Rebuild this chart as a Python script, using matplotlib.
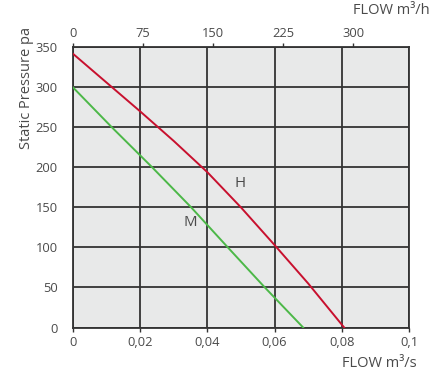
import matplotlib
matplotlib.use('Agg')
import matplotlib.pyplot as plt

plt.rcParams['font.family'] = ['Open Sans', 'DejaVu Sans']

# flow in m3/s, static pressure in pa
h_flow = [0, 0.01, 0.02, 0.03, 0.04, 0.05, 0.06, 0.07, 0.0807]
h_pres = [342, 306, 270, 233, 194, 150, 103, 55, 0]
m_flow = [0, 0.0116, 0.0236, 0.0352, 0.0461, 0.0571, 0.0685]
m_pres = [300, 250, 200, 150, 100, 50, 0]

x_ticks = [0, 0.02, 0.04, 0.06, 0.08, 0.1]
x_labels = ['0', '0,02', '0,04', '0,06', '0,08', '0,1']
top_ticks = [0, 75, 150, 225, 300]
y_ticks = [0, 50, 100, 150, 200, 250, 300, 350]

grid_col = '#333333'
txt_col = '#4a4a4a'

fig = plt.figure(figsize=(4.44, 3.74), dpi=100)
ax = fig.add_axes([0.1644, 0.1243, 0.7568, 0.749])
ax.set_facecolor('#e8e9e9')

ax.plot(h_flow, h_pres, color='#c8102e', lw=1.4, zorder=3)
ax.plot(m_flow, m_pres, color='#4cb848', lw=1.4, zorder=3)
ax.text(0.0497, 180, 'H', fontsize=10.8, color=txt_col, ha='center', va='center')
ax.text(0.0348, 131, 'M', fontsize=10.8, color=txt_col, ha='center', va='center')

ax.set_xlim(0, 0.1)
ax.set_ylim(0, 350)
ax.set_xticks(x_ticks)
ax.set_xticklabels(x_labels)
ax.set_yticks(y_ticks)
ax.grid(True, color=grid_col, lw=1.3)
ax.set_axisbelow(True)
for s in ax.spines.values():
    s.set_color(grid_col)
    s.set_linewidth(1.3)
ax.tick_params(axis='x', length=3, width=1, color=grid_col, labelsize=9.3,
               labelcolor=txt_col, pad=3)
ax.tick_params(axis='y', length=0, labelsize=9.3, labelcolor=txt_col, pad=11)

top = ax.twiny()
top.set_xlim(0, 360)
top.set_xticks(top_ticks)
top.tick_params(axis='x', length=3, width=1, color=grid_col, labelsize=9.3,
                labelcolor=txt_col, pad=2)
for s in top.spines.values():
    s.set_visible(False)

fig.text(0.059, 0.766, 'Static Pressure pa', fontsize=10.5, color=txt_col,
         rotation=90, ha='center', va='center')
fig.text(0.968, 0.971, 'FLOW m³/h', fontsize=10.5, color=txt_col, ha='right', va='center')
fig.text(0.938, 0.029, 'FLOW m³/s', fontsize=10.5, color=txt_col, ha='right', va='center')

fig.savefig('out.png', dpi=100)
